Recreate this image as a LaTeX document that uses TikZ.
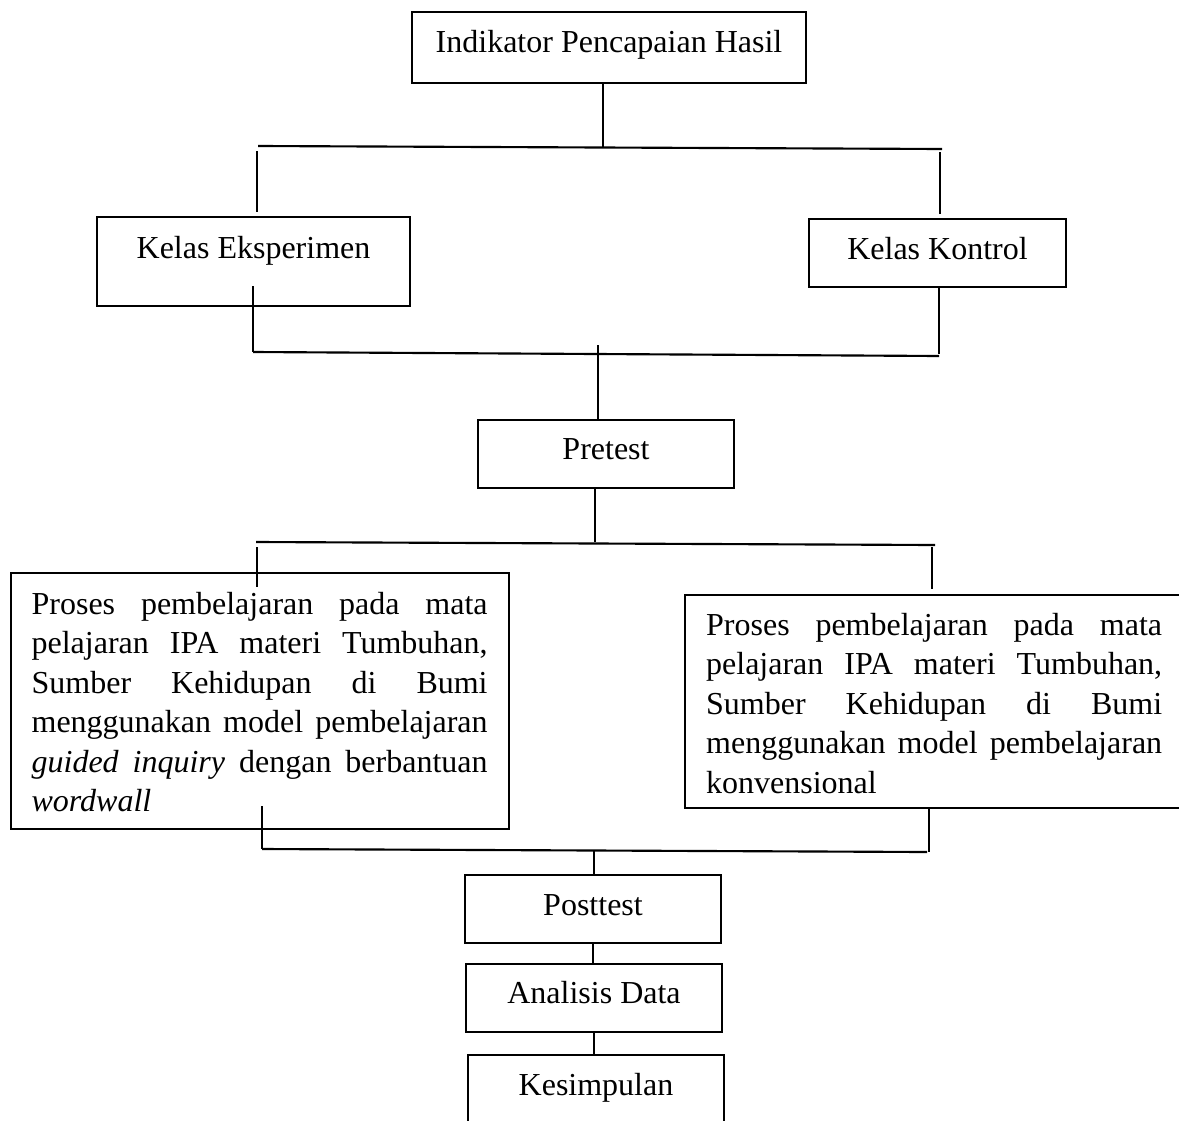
\documentclass[tikz,border=0pt]{standalone}
\usepackage{fontspec}
\setmainfont{Liberation Serif}
\usepackage{tikz}
\usetikzlibrary{positioning}

\begin{document}
\begin{tikzpicture}[x=0.375pt, y=-0.375pt,
    kotak/.style={draw, line width=0.85pt, rectangle, inner xsep=0pt, inner ysep=0pt,
      font=\fontsize{12}{14.8125}\selectfont},
    proses/.style={kotak, anchor=north west, text width=171pt, inner xsep=7.875pt, align=justify},
    garis/.style={line width=0.55pt},
    palang/.style={line width=0.8pt}]
  \useasboundingbox (0,0) rectangle (1179,1120);
  % kotak satu baris
  \node[kotak, anchor=base, minimum width=147.75pt, text height=15.375pt, text depth=11.25pt]
    (indikator) at (609,53) {Indikator Pencapaian Hasil};
  \node[kotak, anchor=base, minimum width=117.375pt, text height=15.375pt, text depth=18pt]
    (eksperimen) at (253.5,258) {Kelas Eksperimen};
  \node[kotak, anchor=base, minimum width=96.375pt, text height=15pt, text depth=10.5pt]
    (kontrol) at (937.5,259) {Kelas Kontrol};
  \node[kotak, anchor=base, minimum width=96pt, text height=14.625pt, text depth=10.875pt]
    (pretest) at (606,459) {Pretest};
  \node[kotak, anchor=base, minimum width=96pt, text height=15pt, text depth=10.5pt]
    (posttest) at (593,915) {Posttest};
  \node[kotak, anchor=base, minimum width=96pt, text height=14.625pt, text depth=10.875pt]
    (analisis) at (594,1003) {Analisis Data};
  \node[kotak, anchor=base, minimum width=96pt, text height=15pt, text depth=11.25pt]
    (kesimpulan) at (596,1095) {Kesimpulan};
  % kotak proses pembelajaran
  \node[proses] (prosesA) at (9.5,572) {\sloppy\rule{0pt}{15.375pt}Proses pembelajaran pada mata\linebreak
    pelajaran IPA materi Tumbuhan,\linebreak Sumber Kehidupan di Bumi\linebreak
    menggunakan model pembelajaran\linebreak \textit{guided inquiry} dengan berbantuan\linebreak
    \textit{wordwall}\rule[-6.5625pt]{0pt}{6.5625pt}};
  \node[proses] (prosesB) at (684,594) {\sloppy\rule{0pt}{15pt}Proses pembelajaran pada mata\linebreak
    pelajaran IPA materi Tumbuhan,\linebreak Sumber Kehidupan di Bumi\linebreak
    menggunakan model pembelajaran\linebreak
    konvensional\rule[-5.625pt]{0pt}{5.625pt}};
  % cabang ke kelas
  \coordinate (atas) at (603,147);
  \coordinate (atasKiri) at (258,146);
  \coordinate (atasKanan) at (942,149);
  \coordinate (turunA) at (257,151);
  \coordinate (turunB) at (940,152);
  \draw[garis] (indikator.south -| atas) -- (atas);
  \draw[palang] (atasKiri) -- (atasKanan);
  \draw[garis, shorten >=1.5pt] (turunA) -- (turunA |- eksperimen.north);
  \draw[garis, shorten >=1.5pt] (turunB) -- (turunB |- kontrol.north);
  % gabung ke pretest
  \coordinate (naikA) at (253,286);
  \coordinate (gabungKiri) at (253,352);
  \coordinate (gabungKanan) at (939,356);
  \coordinate (naikB) at (939,354);
  \coordinate (tengahA) at (598,345);
  \draw[garis] (naikA) -- (gabungKiri);
  \draw[garis] (kontrol.south -| naikB) -- (naikB);
  \draw[palang] (gabungKiri) -- (gabungKanan);
  \draw[garis] (tengahA) -- (tengahA |- pretest.north);
  % cabang ke proses
  \coordinate (tengahB) at (595,542);
  \coordinate (bawahKiri) at (256,542);
  \coordinate (bawahKanan) at (935,545);
  \coordinate (turunC) at (257,547);
  \coordinate (turunD) at (932,547);
  \draw[garis] (pretest.south -| tengahB) -- (tengahB);
  \draw[palang] (bawahKiri) -- (bawahKanan);
  \draw[garis] (turunC) -- (257,587);
  \draw[garis, shorten >=1.9pt] (turunD) -- (turunD |- prosesB.north);
  % gabung ke posttest
  \coordinate (naikC) at (262,806);
  \coordinate (akhirKiri) at (262,849);
  \coordinate (akhirKanan) at (927,852);
  \coordinate (naikD) at (929,852);
  \coordinate (tengahC) at (594,850);
  \draw[garis] (naikC) -- (akhirKiri);
  \draw[garis] (prosesB.south -| naikD) -- (naikD);
  \draw[palang] (akhirKiri) -- (akhirKanan);
  \draw[garis] (tengahC) -- (tengahC |- posttest.north);
  % alur akhir
  \draw[garis] (posttest.south) -- (posttest.south |- analisis.north);
  \draw[garis] (analisis.south) -- (analisis.south |- kesimpulan.north);
\end{tikzpicture}
\end{document}
